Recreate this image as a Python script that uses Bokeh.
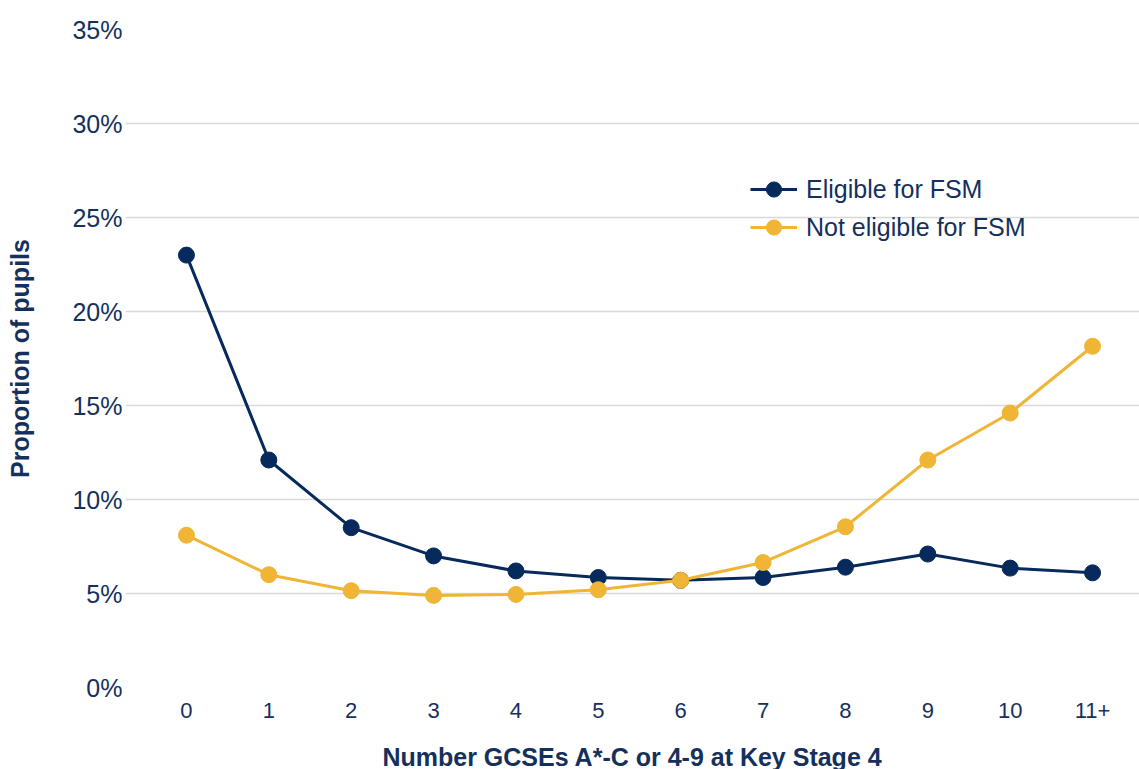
from bokeh.plotting import figure
from bokeh.models import FixedTicker, PrintfTickFormatter, Range1d
from bokeh.embed import file_html
from bokeh.resources import INLINE

# Number of GCSEs at grades A*-C / 4-9 achieved at Key Stage 4
categories = ["0", "1", "2", "3", "4", "5", "6", "7", "8", "9", "10", "11+"]

# Proportion of pupils (%) in each group
eligible_fsm = [23.0, 12.1, 8.5, 7.0, 6.2, 5.85, 5.7, 5.85, 6.4, 7.1, 6.35, 6.1]
not_eligible_fsm = [8.1, 6.0, 5.15, 4.9, 4.95, 5.2, 5.7, 6.65, 8.55, 12.1, 14.6, 18.15]

y_ticks = [0, 5, 10, 15, 20, 25, 30, 35]

NAVY = "#062a5c"
GOLD = "#f0b535"
TEXT = "#15305c"
FONT = "Liberation Sans"

xs = list(range(len(categories)))

p = figure(
    frame_width=1014, frame_height=658,
    output_backend="svg", toolbar_location=None,
    x_range=Range1d(-0.74, 11.57), y_range=Range1d(0, 35),
    min_border_left=125, min_border_right=0,
    min_border_top=29, min_border_bottom=82,
)
p.outline_line_color = None
p.background_fill_color = "white"
p.border_fill_color = "white"

p.line(xs, eligible_fsm, color=NAVY, line_width=3, legend_label="Eligible for FSM")
p.scatter(xs, eligible_fsm, size=16, color=NAVY, legend_label="Eligible for FSM")
p.line(xs, not_eligible_fsm, color=GOLD, line_width=3, legend_label="Not eligible for FSM")
p.scatter(xs, not_eligible_fsm, size=16, color=GOLD, legend_label="Not eligible for FSM")

# x axis: category labels under each point
p.xaxis.ticker = FixedTicker(ticks=xs)
p.xaxis.major_label_overrides = {i: c for i, c in enumerate(categories)}
p.xaxis.axis_label = "Number GCSEs A*-C or 4-9 at Key Stage 4"
p.xaxis.major_label_standoff = 15
p.xaxis.axis_label_standoff = 22
p.xaxis.major_label_text_font_size = "22px"
p.xaxis.axis_label_text_font_size = "25px"

# y axis: percentages
p.yaxis.ticker = FixedTicker(ticks=y_ticks)
p.yaxis.formatter = PrintfTickFormatter(format="%d%%")
p.yaxis.axis_label = "Proportion of pupils"
p.yaxis.major_label_standoff = 3
p.yaxis.axis_label_standoff = 35
p.yaxis.major_label_text_font_size = "25px"
p.yaxis.axis_label_text_font_size = "25px"

for ax in (p.xaxis, p.yaxis):
    ax.axis_line_color = None
    ax.major_tick_line_color = None
    ax.minor_tick_line_color = None
    ax.major_tick_out = 0
    ax.major_tick_in = 0
    ax.major_label_text_font = FONT
    ax.major_label_text_color = TEXT
    ax.axis_label_text_font = FONT
    ax.axis_label_text_font_style = "bold"
    ax.axis_label_text_color = TEXT

p.xgrid.grid_line_color = None
p.ygrid.ticker = FixedTicker(ticks=y_ticks[:-1])
p.ygrid.grid_line_color = "#d9d9d9"
p.ygrid.grid_line_width = 1.5

leg = p.legend[0]
leg.location = (625, 441)
leg.border_line_color = None
leg.background_fill_alpha = 0
leg.padding = 0
leg.margin = 0
leg.spacing = 0
leg.glyph_width = 47
leg.glyph_height = 38
leg.label_height = 38
leg.label_standoff = 9
leg.label_text_font = FONT
leg.label_text_font_size = "25px"
leg.label_text_color = TEXT

open("out.html", "w").write(file_html(p, INLINE))
